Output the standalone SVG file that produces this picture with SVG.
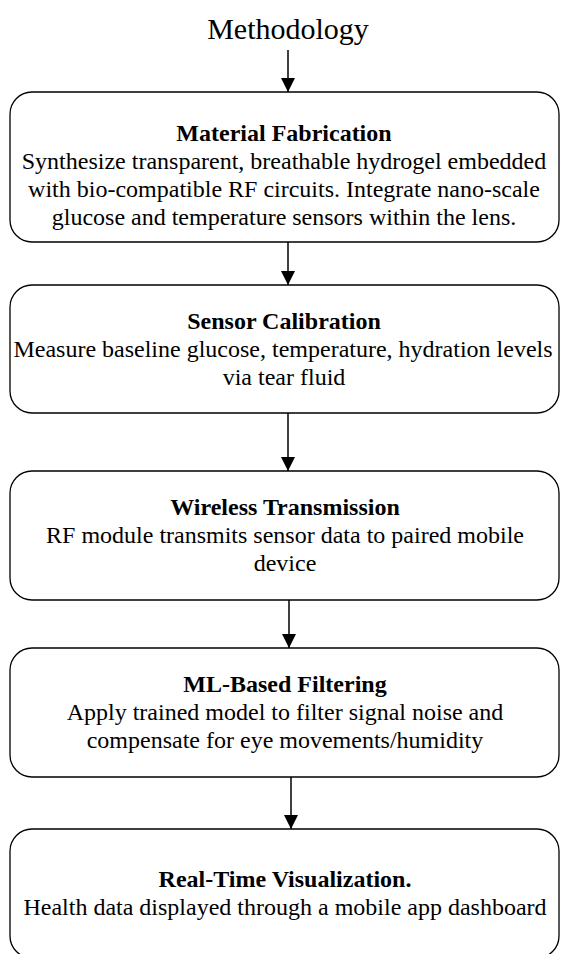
<svg xmlns="http://www.w3.org/2000/svg" width="561" height="954" viewBox="0 0 561 954">
<style>
.box{fill:#fff;stroke:#000;stroke-width:1.3}
.t{font-family:"Liberation Serif","Times New Roman",serif;font-size:24px;fill:#000;text-anchor:middle}
.b{font-weight:bold}
.title{font-family:"Liberation Serif","Times New Roman",serif;font-size:30px;fill:#000;text-anchor:middle}
.c{stroke:#000;stroke-width:1.5;fill:none;marker-end:url(#ah)}
</style>
<defs>
<marker id="ah" markerWidth="14" markerHeight="14" refX="14" refY="7" orient="auto" markerUnits="userSpaceOnUse" viewBox="0 0 14 14">
<path d="M0,0 L14,7 L0,14 z" fill="#000"/>
</marker>
</defs>
<rect width="561" height="954" fill="#fff"/>
<text class="title" x="288" y="39">Methodology</text>
<g id="connectors">
<line class="c" x1="288" y1="50" x2="288" y2="92"/>
<line class="c" x1="288" y1="242" x2="288" y2="285"/>
<line class="c" x1="288" y1="413" x2="288" y2="471"/>
<line class="c" x1="289" y1="600" x2="289" y2="648"/>
<line class="c" x1="291" y1="777" x2="291" y2="829"/>
</g>
<g id="n1">
<rect class="box" x="10" y="92" width="549" height="150" rx="22" ry="22"/>
<text class="t b" x="284" y="141">Material Fabrication</text>
<text class="t" x="284" y="169">Synthesize transparent, breathable hydrogel embedded</text>
<text class="t" x="284" y="197">with bio-compatible RF circuits. Integrate nano-scale</text>
<text class="t" x="284" y="225">glucose and temperature sensors within the lens.</text>
</g>
<g id="n2">
<rect class="box" x="10" y="285" width="549" height="128" rx="22" ry="22"/>
<text class="t b" x="284" y="329">Sensor Calibration</text>
<text class="t" x="283" y="357">Measure baseline glucose, temperature, hydration levels</text>
<text class="t" x="284" y="385">via tear fluid</text>
</g>
<g id="n3">
<rect class="box" x="10" y="471" width="549" height="129" rx="22" ry="22"/>
<text class="t b" x="285" y="515">Wireless Transmission</text>
<text class="t" x="285" y="543">RF module transmits sensor data to paired mobile</text>
<text class="t" x="285" y="571">device</text>
</g>
<g id="n4">
<rect class="box" x="10" y="648" width="549" height="129" rx="22" ry="22"/>
<text class="t b" x="285" y="692">ML-Based Filtering</text>
<text class="t" x="285" y="720">Apply trained model to filter signal noise and</text>
<text class="t" x="285" y="748">compensate for eye movements/humidity</text>
</g>
<g id="n5">
<rect class="box" x="10" y="829" width="549" height="129" rx="22" ry="22"/>
<text class="t b" x="285" y="887">Real-Time Visualization.</text>
<text class="t" x="285" y="915">Health data displayed through a mobile app dashboard</text>
</g>
</svg>
